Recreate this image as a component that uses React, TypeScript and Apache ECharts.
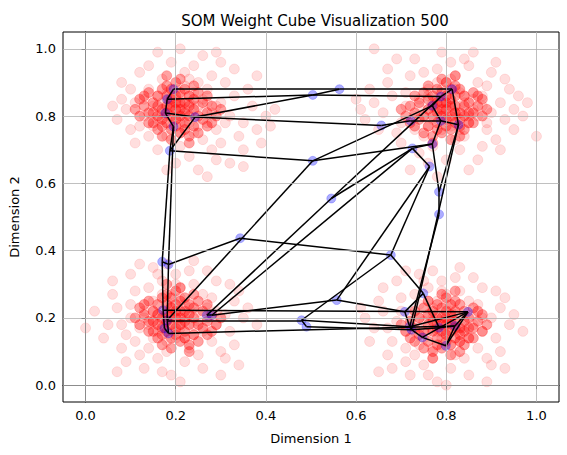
import React, { useEffect, useRef } from "react";
import * as echarts from "echarts";

const title = "SOM Weight Cube Visualization 500";
const xAxisName = "Dimension 1";
const yAxisName = "Dimension 2";
const tickValues = [0, 0.2, 0.4, 0.6, 0.8, 1.0];

const clusterTopLeft: [number, number][] = [
  [0.22,0.82],[0.19,0.84],[0.24,0.80],[0.21,0.86],[0.25,0.83],[0.17,0.81],[0.23,0.78],[0.20,0.79],[0.26,0.85],[0.18,0.87],
  [0.22,0.89],[0.15,0.83],[0.28,0.81],[0.21,0.75],[0.24,0.87],[0.19,0.77],[0.27,0.78],[0.16,0.86],[0.23,0.84],[0.20,0.82],
  [0.13,0.80],[0.30,0.84],[0.25,0.90],[0.18,0.74],[0.29,0.76],[0.14,0.88],[0.22,0.93],[0.26,0.73],[0.11,0.84],[0.32,0.80],
  [0.17,0.91],[0.27,0.88],[0.21,0.71],[0.33,0.86],[0.12,0.77],[0.24,0.95],[0.09,0.82],[0.30,0.72],[0.16,0.70],[0.35,0.78],
  [0.19,0.96],[0.28,0.92],[0.10,0.88],[0.34,0.74],[0.23,0.68],[0.14,0.74],[0.31,0.90],[0.08,0.85],[0.37,0.83],[0.20,0.66],
  [0.26,0.98],[0.12,0.93],[0.38,0.76],[0.29,0.67],[0.07,0.79],[0.35,0.70],[0.16,0.99],[0.40,0.80],[0.25,0.64],[0.33,0.94],
  [0.22,0.80],[0.20,0.85],[0.24,0.83],[0.18,0.80],[0.21,0.78],[0.23,0.86],[0.26,0.81],[0.19,0.82],[0.17,0.84],[0.25,0.77],
  [0.21,0.83],[0.22,0.77],[0.20,0.88],[0.27,0.84],[0.16,0.79],[0.24,0.75],[0.18,0.85],[0.29,0.83],[0.15,0.77],[0.23,0.91],
  [0.31,0.78],[0.13,0.85],[0.28,0.70],[0.36,0.88],[0.10,0.76],[0.42,0.82],[0.30,0.96],[0.06,0.83],[0.39,0.72],[0.14,0.95],
  [0.27,0.62],[0.32,0.66],[0.18,0.64],[0.38,0.92],[0.21,1.00],[0.11,0.72],[0.35,0.65],[0.41,0.77],[0.29,0.99],[0.08,0.90],
];
const coreTopLeft: [number, number][] = [
  [0.20,0.82],[0.18,0.83],[0.22,0.81],[0.19,0.80],[0.21,0.84],[0.17,0.82],[0.23,0.83],[0.20,0.79],[0.19,0.85],[0.22,0.78],
  [0.16,0.80],[0.24,0.82],[0.18,0.78],[0.21,0.87],[0.15,0.84],[0.25,0.80],[0.20,0.86],[0.17,0.77],[0.23,0.86],[0.14,0.81],
  [0.26,0.84],[0.19,0.76],[0.22,0.88],[0.16,0.86],[0.24,0.77],[0.13,0.83],[0.27,0.81],[0.18,0.89],[0.21,0.75],[0.15,0.78],
  [0.25,0.87],[0.12,0.80],[0.28,0.83],[0.20,0.90],[0.17,0.74],[0.23,0.74],[0.14,0.87],[0.27,0.77],[0.19,0.83],[0.21,0.80],
  [0.18,0.81],[0.22,0.84],[0.20,0.77],[0.16,0.83],[0.24,0.85],[0.19,0.88],[0.23,0.80],[0.17,0.79],[0.21,0.82],[0.20,0.84],
  [0.15,0.81],[0.26,0.79],[0.18,0.86],[0.22,0.76],[0.13,0.86],[0.29,0.80],[0.24,0.89],[0.16,0.76],[0.11,0.82],[0.27,0.86],
  [0.19,0.73],[0.25,0.75],[0.14,0.78],[0.30,0.82],[0.21,0.91],[0.17,0.88],[0.12,0.85],[0.28,0.78],[0.23,0.72],[0.18,0.92],
];

const clusterTopRight: [number, number][] = [
  [0.80,0.83],[0.78,0.85],[0.82,0.81],[0.79,0.88],[0.84,0.84],[0.76,0.82],[0.81,0.79],[0.83,0.87],[0.77,0.79],[0.86,0.82],
  [0.80,0.90],[0.74,0.85],[0.85,0.78],[0.79,0.76],[0.88,0.86],[0.73,0.80],[0.82,0.92],[0.76,0.88],[0.90,0.81],[0.71,0.83],
  [0.84,0.74],[0.78,0.94],[0.87,0.90],[0.70,0.78],[0.92,0.84],[0.75,0.74],[0.81,0.96],[0.89,0.76],[0.68,0.86],[0.94,0.88],
  [0.77,0.71],[0.85,0.95],[0.72,0.92],[0.93,0.79],[0.66,0.81],[0.83,0.70],[0.79,0.99],[0.91,0.73],[0.69,0.75],[0.95,0.82],
  [0.74,0.69],[0.87,0.67],[0.64,0.84],[0.90,0.93],[0.80,0.67],[0.67,0.90],[0.96,0.86],[0.73,0.97],[0.86,0.99],[0.62,0.79],
  [0.81,0.84],[0.79,0.81],[0.83,0.83],[0.77,0.84],[0.80,0.86],[0.82,0.80],[0.78,0.82],[0.84,0.86],[0.76,0.86],[0.81,0.77],
  [0.79,0.84],[0.85,0.80],[0.82,0.88],[0.75,0.80],[0.80,0.80],[0.78,0.90],[0.86,0.85],[0.74,0.83],[0.83,0.76],[0.88,0.83],
  [0.76,0.77],[0.81,0.91],[0.71,0.87],[0.89,0.89],[0.65,0.76],[0.97,0.80],[0.63,0.88],[0.92,0.70],[0.70,0.72],[0.84,0.97],
  [0.61,0.82],[0.76,0.66],[0.98,0.84],[0.88,0.71],[0.67,0.94],[0.64,1.00],[1.00,0.74],[0.93,0.91],[0.72,0.64],[0.85,0.64],
  [0.78,0.62],[0.95,0.76],[0.69,0.97],[0.60,0.85],[0.91,0.96],[0.82,0.73],[0.75,0.93],[0.87,0.80],[0.73,0.76],[0.89,0.78],
];
const coreTopRight: [number, number][] = [
  [0.80,0.82],[0.82,0.83],[0.78,0.81],[0.81,0.80],[0.79,0.84],[0.83,0.81],[0.77,0.83],[0.80,0.79],[0.81,0.85],[0.78,0.78],
  [0.84,0.80],[0.76,0.82],[0.82,0.78],[0.79,0.87],[0.85,0.84],[0.75,0.80],[0.80,0.86],[0.83,0.77],[0.77,0.86],[0.86,0.81],
  [0.74,0.84],[0.81,0.76],[0.78,0.88],[0.84,0.86],[0.76,0.77],[0.87,0.83],[0.73,0.81],[0.82,0.89],[0.79,0.75],[0.85,0.78],
  [0.75,0.87],[0.88,0.80],[0.72,0.83],[0.80,0.90],[0.83,0.74],[0.77,0.74],[0.86,0.87],[0.73,0.77],[0.81,0.83],[0.79,0.80],
  [0.82,0.81],[0.78,0.84],[0.80,0.77],[0.84,0.83],[0.76,0.85],[0.81,0.88],[0.77,0.80],[0.83,0.79],[0.79,0.82],[0.80,0.84],
  [0.85,0.81],[0.74,0.79],[0.82,0.86],[0.78,0.76],[0.87,0.86],[0.71,0.80],[0.76,0.89],[0.84,0.76],[0.89,0.82],[0.73,0.86],
  [0.81,0.73],[0.75,0.75],[0.86,0.78],[0.70,0.82],[0.79,0.91],[0.83,0.88],[0.88,0.85],[0.72,0.78],[0.77,0.72],[0.82,0.92],
];

const clusterBottomLeft: [number, number][] = [
  [0.19,0.20],[0.17,0.22],[0.21,0.18],[0.18,0.25],[0.23,0.21],[0.15,0.19],[0.20,0.16],[0.22,0.24],[0.16,0.16],[0.25,0.19],
  [0.19,0.27],[0.13,0.22],[0.24,0.15],[0.18,0.13],[0.27,0.23],[0.12,0.17],[0.21,0.29],[0.15,0.25],[0.29,0.18],[0.10,0.20],
  [0.23,0.11],[0.17,0.31],[0.26,0.27],[0.09,0.15],[0.31,0.21],[0.14,0.11],[0.20,0.33],[0.28,0.13],[0.07,0.23],[0.33,0.25],
  [0.16,0.08],[0.24,0.30],[0.11,0.28],[0.30,0.10],[0.05,0.18],[0.22,0.07],[0.18,0.36],[0.32,0.16],[0.08,0.11],[0.35,0.20],
  [0.13,0.05],[0.26,0.05],[0.06,0.27],[0.29,0.31],[0.19,0.03],[0.10,0.33],[0.34,0.28],[0.15,0.35],[0.24,0.37],[0.00,0.17],
  [0.20,0.21],[0.18,0.19],[0.22,0.20],[0.16,0.21],[0.19,0.23],[0.21,0.17],[0.17,0.18],[0.23,0.23],[0.15,0.22],[0.20,0.14],
  [0.18,0.22],[0.24,0.18],[0.21,0.26],[0.14,0.18],[0.19,0.18],[0.17,0.27],[0.25,0.22],[0.13,0.20],[0.22,0.14],[0.27,0.20],
  [0.15,0.14],[0.20,0.30],[0.10,0.24],[0.28,0.26],[0.04,0.14],[0.36,0.23],[0.02,0.22],[0.31,0.08],[0.09,0.07],[0.23,0.34],
  [0.11,0.13],[0.17,0.04],[0.33,0.12],[0.27,0.34],[0.06,0.31],[0.21,0.01],[0.38,0.18],[0.12,0.36],[0.30,0.03],[0.08,0.18],
  [0.25,0.09],[0.14,0.29],[0.32,0.30],[0.07,0.04],[0.26,0.16],[0.12,0.09],[0.18,0.10],[0.29,0.22],[0.16,0.33],[0.34,0.06],
];
const coreBottomLeft: [number, number][] = [
  [0.20,0.20],[0.18,0.21],[0.22,0.19],[0.19,0.18],[0.21,0.22],[0.17,0.20],[0.23,0.21],[0.20,0.17],[0.19,0.23],[0.22,0.16],
  [0.16,0.18],[0.24,0.20],[0.18,0.16],[0.21,0.25],[0.15,0.22],[0.25,0.18],[0.20,0.24],[0.17,0.15],[0.23,0.24],[0.14,0.19],
  [0.26,0.22],[0.19,0.14],[0.22,0.26],[0.16,0.24],[0.24,0.15],[0.13,0.21],[0.27,0.19],[0.18,0.27],[0.21,0.13],[0.15,0.16],
  [0.25,0.25],[0.12,0.18],[0.28,0.21],[0.20,0.28],[0.17,0.12],[0.23,0.12],[0.14,0.25],[0.27,0.15],[0.19,0.21],[0.21,0.18],
  [0.18,0.19],[0.22,0.22],[0.20,0.15],[0.16,0.21],[0.24,0.23],[0.19,0.26],[0.23,0.18],[0.17,0.17],[0.21,0.20],[0.20,0.22],
  [0.15,0.19],[0.26,0.17],[0.18,0.24],[0.22,0.14],[0.13,0.24],[0.29,0.18],[0.24,0.27],[0.16,0.14],[0.11,0.20],[0.27,0.24],
  [0.19,0.11],[0.25,0.13],[0.14,0.16],[0.30,0.20],[0.21,0.29],[0.17,0.26],[0.12,0.23],[0.28,0.16],[0.23,0.10],[0.18,0.30],
];

const clusterBottomRight: [number, number][] = [
  [0.78,0.18],[0.76,0.20],[0.80,0.16],[0.77,0.23],[0.82,0.19],[0.74,0.17],[0.79,0.14],[0.81,0.22],[0.75,0.14],[0.84,0.17],
  [0.78,0.25],[0.72,0.21],[0.83,0.13],[0.77,0.11],[0.86,0.21],[0.71,0.16],[0.80,0.27],[0.74,0.24],[0.88,0.16],[0.69,0.19],
  [0.82,0.09],[0.76,0.29],[0.85,0.25],[0.68,0.13],[0.90,0.20],[0.73,0.09],[0.79,0.31],[0.87,0.11],[0.66,0.22],[0.92,0.23],
  [0.75,0.06],[0.83,0.28],[0.70,0.26],[0.89,0.08],[0.64,0.17],[0.81,0.05],[0.77,0.34],[0.91,0.14],[0.67,0.09],[0.94,0.18],
  [0.72,0.03],[0.85,0.03],[0.65,0.25],[0.88,0.29],[0.78,0.01],[0.69,0.31],[0.93,0.26],[0.74,0.33],[0.83,0.35],[0.62,0.20],
  [0.79,0.19],[0.77,0.17],[0.81,0.18],[0.75,0.19],[0.78,0.21],[0.80,0.15],[0.76,0.16],[0.82,0.21],[0.74,0.20],[0.79,0.12],
  [0.77,0.20],[0.83,0.16],[0.80,0.24],[0.73,0.16],[0.78,0.16],[0.76,0.25],[0.84,0.20],[0.72,0.18],[0.81,0.12],[0.86,0.18],
  [0.74,0.12],[0.79,0.28],[0.70,0.22],[0.87,0.24],[0.63,0.13],[0.95,0.21],[0.61,0.23],[0.90,0.06],[0.68,0.05],[0.82,0.32],
  [0.71,0.11],[0.76,0.03],[0.92,0.10],[0.86,0.32],[0.66,0.29],[0.80,0.00],[0.97,0.16],[0.71,0.34],[0.89,0.01],[0.67,0.17],
  [0.84,0.08],[0.73,0.27],[0.91,0.28],[0.65,0.04],[0.85,0.14],[0.71,0.07],[0.77,0.08],[0.88,0.20],[0.75,0.31],[0.93,0.05],
];
const coreBottomRight: [number, number][] = [
  [0.80,0.18],[0.82,0.19],[0.78,0.17],[0.81,0.16],[0.79,0.20],[0.83,0.17],[0.77,0.19],[0.80,0.15],[0.81,0.21],[0.78,0.14],
  [0.84,0.16],[0.76,0.18],[0.82,0.14],[0.79,0.23],[0.85,0.20],[0.75,0.16],[0.80,0.22],[0.83,0.13],[0.77,0.22],[0.86,0.17],
  [0.74,0.20],[0.81,0.12],[0.78,0.24],[0.84,0.22],[0.76,0.13],[0.87,0.19],[0.73,0.17],[0.82,0.25],[0.79,0.11],[0.85,0.14],
  [0.75,0.23],[0.88,0.16],[0.72,0.19],[0.80,0.26],[0.83,0.10],[0.77,0.10],[0.86,0.23],[0.73,0.13],[0.81,0.19],[0.79,0.16],
  [0.82,0.17],[0.78,0.20],[0.80,0.13],[0.84,0.19],[0.76,0.21],[0.81,0.24],[0.77,0.16],[0.83,0.15],[0.79,0.18],[0.80,0.20],
  [0.85,0.17],[0.74,0.15],[0.82,0.22],[0.78,0.12],[0.87,0.22],[0.71,0.16],[0.76,0.25],[0.84,0.12],[0.89,0.18],[0.73,0.22],
  [0.81,0.09],[0.75,0.11],[0.86,0.14],[0.70,0.18],[0.79,0.27],[0.83,0.24],[0.88,0.21],[0.72,0.14],[0.77,0.08],[0.82,0.28],
];

// SOM neuron weights (x, y)
const somNodes: [number, number][] = [
  [0.195,0.880],[0.181,0.850],[0.177,0.809],[0.195,0.769],[0.243,0.797],[0.187,0.697],
  [0.504,0.863],[0.563,0.880],[0.504,0.667],
  [0.813,0.880],[0.788,0.858],[0.769,0.831],[0.721,0.786],[0.788,0.786],[0.827,0.774],
  [0.656,0.772],[0.769,0.717],[0.725,0.704],[0.763,0.650],[0.784,0.575],[0.784,0.508],
  [0.343,0.437],[0.545,0.555],
  [0.170,0.367],[0.184,0.359],[0.172,0.223],[0.181,0.193],[0.175,0.169],[0.184,0.154],
  [0.269,0.208],[0.280,0.208],[0.479,0.193],[0.490,0.174],[0.557,0.253],
  [0.677,0.387],[0.749,0.273],[0.708,0.218],[0.848,0.218],[0.719,0.174],[0.723,0.165],
  [0.784,0.171],[0.819,0.176],[0.747,0.142],[0.799,0.117],
];

// neighbour connections between SOM neurons (index pairs)
const somEdges: [number, number][] = [
  [0,1],[1,2],[2,3],[3,5],[2,4],[4,5],[5,23],[3,24],[23,24],[23,25],[24,26],[25,27],[26,28],[27,28],
  [0,7],[7,9],[1,6],[6,10],[4,6],[6,7],
  [4,15],[15,12],[12,13],[13,14],
  [5,8],[8,16],[8,26],[8,11],
  [9,10],[10,11],[11,13],[9,14],[16,17],[17,18],[13,16],
  [10,22],[22,29],[17,30],[22,17],
  [18,33],[18,34],[16,19],[19,20],[20,38],[14,39],[14,19],
  [24,21],[21,34],
  [34,35],[35,40],[33,36],[36,35],[36,38],[38,39],[39,42],[42,43],[43,37],[37,38],[37,42],[40,41],[41,37],[39,40],[41,43],
  [25,37],[26,31],[31,38],[28,41],[31,34],[30,33],[29,30],[31,32],[32,39],
];

export default function App() {
  const ref = useRef<HTMLDivElement>(null);
  useEffect(() => {
    if (!ref.current) return;
    const chart = echarts.init(ref.current, undefined, { renderer: "svg" });
    const font = "DejaVu Sans";
    const outerPoints = [
      ...clusterTopLeft,
      ...clusterTopRight,
      ...clusterBottomLeft,
      ...clusterBottomRight,
    ];
    const corePoints = [
      ...coreTopLeft,
      ...coreTopRight,
      ...coreBottomLeft,
      ...coreBottomRight,
    ];
    const edgeData = somEdges.map(([a, b]) => ({ coords: [somNodes[a], somNodes[b]] }));
    const gridMarks = {
      silent: true,
      symbol: "none",
      label: { show: false },
      lineStyle: { color: "#b0b0b0", type: "solid", width: 0.8 },
      data: [
        ...tickValues.map((v) => ({ xAxis: v })),
        ...tickValues.map((v) => ({ yAxis: v })),
      ],
    };
    const axisCommon = {
      type: "value",
      min: -0.05,
      max: 1.05,
      nameLocation: "middle",
      nameTextStyle: { fontFamily: font, fontSize: 13, color: "#000" },
      axisLine: { show: true, lineStyle: { color: "#000" } },
      axisTick: { show: true, inside: false, length: 4, customValues: tickValues, lineStyle: { color: "#000" } },
      axisLabel: {
        customValues: tickValues,
        fontFamily: font,
        fontSize: 13,
        color: "#000",
        margin: 7,
        formatter: (v: number) => v.toFixed(1),
      },
      splitLine: { show: false },
    };
    chart.setOption({
      animation: false,
      backgroundColor: "#ffffff",
      title: {
        text: title,
        left: 310,
        top: 8,
        textAlign: "center",
        textStyle: { fontFamily: font, fontSize: 15, fontWeight: "normal", color: "#000" },
      },
      grid: {
        left: 62,
        right: 8,
        top: 32,
        bottom: 53,
        show: true,
        borderColor: "#000",
        borderWidth: 1,
      },
      xAxis: { ...axisCommon, name: xAxisName, nameGap: 30 },
      yAxis: { ...axisCommon, name: yAxisName, nameGap: 42, nameRotate: 90 },
      series: [
        {
          type: "scatter",
          data: outerPoints,
          symbolSize: 10,
          itemStyle: { color: "rgba(255,0,0,0.16)", borderColor: "rgba(255,0,0,0.22)", borderWidth: 0.6 },
          markLine: gridMarks,
          z: 2,
        },
        {
          type: "scatter",
          data: corePoints,
          symbolSize: 10,
          itemStyle: { color: "rgba(255,0,0,0.45)", borderColor: "rgba(255,0,0,0.5)", borderWidth: 0.6 },
          z: 2,
        },
        {
          type: "scatter",
          data: somNodes,
          symbolSize: 9,
          itemStyle: { color: "rgba(0,0,255,0.4)", borderColor: "rgba(0,0,255,0.45)", borderWidth: 0.6 },
          z: 3,
        },
        {
          type: "lines",
          coordinateSystem: "cartesian2d",
          data: edgeData,
          lineStyle: { color: "#000", width: 1.5, opacity: 1 },
          z: 4,
        },
      ],
    });
    return () => chart.dispose();
  }, []);
  return (
    <div
      ref={ref}
      style={{ position: "fixed", left: 0, top: 0, width: 567, height: 455 }}
    />
  );
}
